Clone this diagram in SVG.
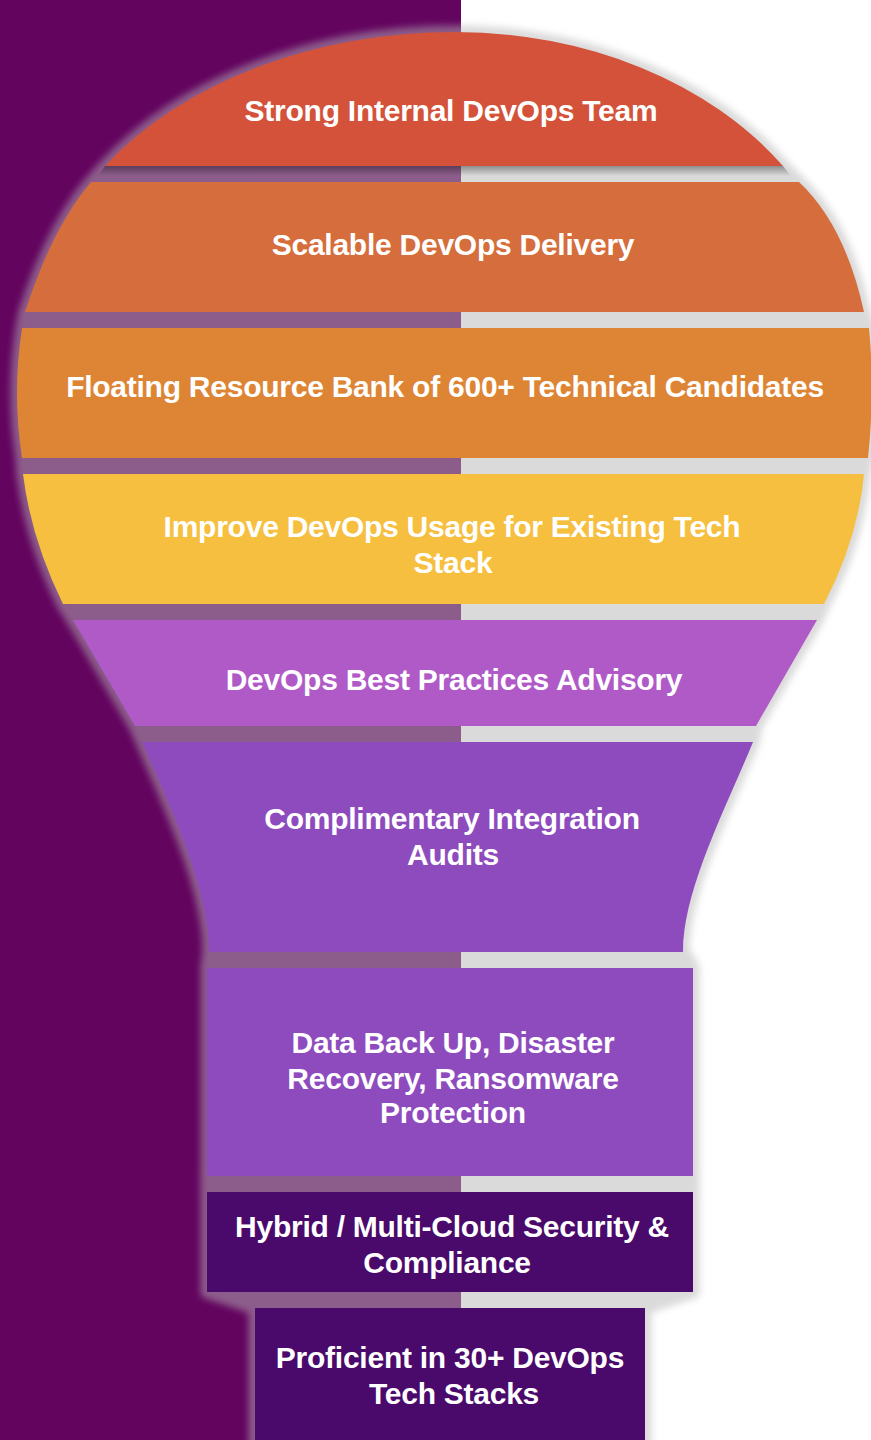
<svg xmlns="http://www.w3.org/2000/svg" width="871" height="1440" viewBox="0 0 871 1440">
  <defs>
    <filter id="glow" x="-10%" y="-10%" width="120%" height="120%">
      <feGaussianBlur stdDeviation="3.5"/>
    </filter>
    <linearGradient id="shadow" x1="0" y1="0" x2="0" y2="1">
      <stop offset="0" stop-color="#000" stop-opacity="0.35"/>
      <stop offset="1" stop-color="#000" stop-opacity="0"/>
    </linearGradient>
    <style>
      .halo { fill: #b6b6b6; stroke: #b6b6b6; stroke-width: 13; stroke-linejoin: round; }
      .lbl { font-family: "Liberation Sans", Arial, sans-serif; font-weight: bold; font-size: 30px; fill: #ffffff; text-anchor: middle; letter-spacing: -0.25px; }
    </style>
  </defs>

  <!-- background -->
  <rect x="0" y="0" width="871" height="1440" fill="#ffffff"/>
  <rect x="0" y="0" width="461" height="1440" fill="#63045f"/>

  <!-- bulb silhouette / glow -->
  <g id="halo" opacity="0.5" filter="url(#glow)">
    <path class="halo" d="M105,166 A420,300 0 0 1 455,32 A394,300 0 0 1 783,166 Z"/>
    <path class="halo" d="M91,182 L799,182 Q845,225 864,312 L25,312 Q52,228 91,182 Z"/>
    <path class="halo" d="M22,328 L869,328 Q875,393 868,458 L22,458 Q12,393 22,328 Z"/>
    <path class="halo" d="M23,474 L864,474 Q858,539 824,604 L63,604 Q31,539 23,474 Z"/>
    <path class="halo" d="M73,620 L817,620 L756,726 L135,726 Z"/>
    <path class="halo" d="M142,742 L753,742 C725,810 683,890 683,952 L209,952 C209,890 172,810 142,742 Z"/>
    <rect class="halo" x="207" y="968" width="486" height="208"/>
    <rect class="halo" x="207" y="1192" width="486" height="100"/>
    <rect class="halo" x="255" y="1308" width="390" height="140"/>
    <polygon class="halo" points="105,166 783,166 799,182 91,182"/>
    <polygon class="halo" points="25,312 864,312 869,328 22,328"/>
    <polygon class="halo" points="22,458 868,458 864,474 23,474"/>
    <polygon class="halo" points="63,604 824,604 817,620 73,620"/>
    <polygon class="halo" points="135,726 756,726 753,742 142,742"/>
    <polygon class="halo" points="209,952 684,952 693,968 207,968"/>
    <polygon class="halo" points="207,1176 693,1176 693,1192 207,1192"/>
    <polygon class="halo" points="207,1292 693,1292 645,1308 255,1308"/>
  </g>
  <polygon points="105,166 783,166 791,176 98,176" fill="url(#shadow)"/>

  <g id="band1">
    <path d="M105,166 A420,300 0 0 1 455,32 A394,300 0 0 1 783,166 Z" fill="#d4523a"/>
    <text class="lbl" x="451" y="121">Strong Internal DevOps Team</text>
  </g>
  <g id="band2">
    <path d="M91,182 L799,182 Q845,225 864,312 L25,312 Q52,228 91,182 Z" fill="#d66d3c"/>
    <text class="lbl" x="453" y="255">Scalable DevOps Delivery</text>
  </g>
  <g id="band3">
    <path d="M22,328 L869,328 Q875,393 868,458 L22,458 Q12,393 22,328 Z" fill="#de8535"/>
    <text class="lbl" x="445" y="397">Floating Resource Bank of 600+ Technical Candidates</text>
  </g>
  <g id="band4">
    <path d="M23,474 L864,474 Q858,539 824,604 L63,604 Q31,539 23,474 Z" fill="#f6bf3f"/>
    <text class="lbl" x="452" y="537">Improve DevOps Usage for Existing Tech</text>
    <text class="lbl" x="453" y="573">Stack</text>
  </g>
  <g id="band5">
    <path d="M73,620 L817,620 L756,726 L135,726 Z" fill="#b05ac8"/>
    <text class="lbl" x="454" y="690">DevOps Best Practices Advisory</text>
  </g>
  <g id="band6">
    <path d="M142,742 L753,742 C725,810 683,890 683,952 L209,952 C209,890 172,810 142,742 Z" fill="#8e4bbe"/>
    <text class="lbl" x="452" y="829">Complimentary Integration</text>
    <text class="lbl" x="453" y="865">Audits</text>
  </g>
  <g id="band7">
    <rect x="207" y="968" width="486" height="208" fill="#8e4bbe"/>
    <text class="lbl" x="453" y="1053">Data Back Up, Disaster</text>
    <text class="lbl" x="453" y="1089">Recovery, Ransomware</text>
    <text class="lbl" x="453" y="1123">Protection</text>
  </g>
  <g id="band8">
    <rect x="207" y="1192" width="486" height="100" fill="#4a0a6b"/>
    <text class="lbl" x="452" y="1237">Hybrid / Multi-Cloud Security &amp;</text>
    <text class="lbl" x="447" y="1273">Compliance</text>
  </g>
  <g id="band9">
    <rect x="255" y="1308" width="390" height="132" fill="#4a0a6b"/>
    <text class="lbl" x="450" y="1368">Proficient in 30+ DevOps</text>
    <text class="lbl" x="454" y="1404">Tech Stacks</text>
  </g>
</svg>
